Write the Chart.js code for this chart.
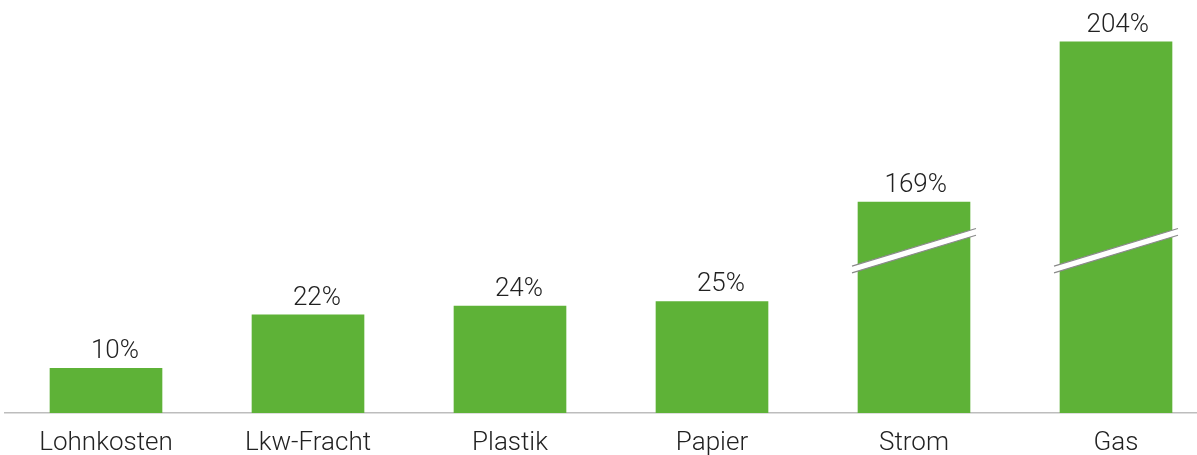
<!DOCTYPE html>
<html>
<head>
<meta charset="utf-8">
<script src="https://cdn.jsdelivr.net/npm/chart.js@4"></script>
<style>
  html, body { margin: 0; padding: 0; background: #fff; overflow: hidden; }
  #wrap { width: 1220px; height: 455px; }
</style>
</head>
<body>
<div id="wrap"><canvas id="chart" width="1220" height="455"></canvas></div>
<script>
// categories and the real percentage values shown as labels
const categories = ['Lohnkosten', 'Lkw-Fracht', 'Plastik', 'Papier', 'Strom', 'Gas'];
const values = [10, 22, 24, 25, 169, 204];
// heights actually drawn (Strom and Gas are cut by an axis break)
const barHeights = [10, 22, 24, 25, 47.3, 83.2];
const broken = [false, false, false, false, true, true];
const BREAK_AT = 36.4;

const GREEN = '#5eb237';
const FONT = 'Roboto, "Noto Sans", sans-serif';

// value labels sit right-aligned a bit past the bar centre, like the original
const valueLabels = {
  id: 'valueLabels',
  afterDatasetsDraw(chart) {
    const { ctx } = chart;
    const meta = chart.getDatasetMeta(0);
    ctx.save();
    ctx.font = `300 26px ${FONT}`;
    ctx.fillStyle = '#222';
    ctx.textAlign = 'right';
    ctx.textBaseline = 'alphabetic';
    meta.data.forEach((bar, i) => {
      ctx.fillText(`${values[i]}%`, bar.x + 33, bar.y - 10);
    });
    ctx.restore();
  },
};

const axisBreaks = {
  id: 'axisBreaks',
  afterDatasetsDraw(chart) {
    const { ctx } = chart;
    const meta = chart.getDatasetMeta(0);
    const yc = chart.scales.y.getPixelForValue(BREAK_AT);
    meta.data.forEach((bar, i) => {
      if (!broken[i]) return;
      const half = bar.width / 2 + 6;
      const x0 = bar.x - half, x1 = bar.x + half;
      const rise = 18.8, gap = 3.4;
      ctx.save();
      ctx.beginPath();
      ctx.moveTo(x0, yc + rise - gap);
      ctx.lineTo(x1, yc - rise - gap);
      ctx.lineTo(x1, yc - rise + gap);
      ctx.lineTo(x0, yc + rise + gap);
      ctx.closePath();
      ctx.fillStyle = '#fff';
      ctx.fill();
      ctx.strokeStyle = '#8a8a8a';
      ctx.lineWidth = 1.2;
      ctx.beginPath();
      ctx.moveTo(x0, yc + rise - gap);
      ctx.lineTo(x1, yc - rise - gap);
      ctx.moveTo(x0, yc + rise + gap);
      ctx.lineTo(x1, yc - rise + gap);
      ctx.stroke();
      ctx.restore();
    });
  },
};

new Chart(document.querySelector('#chart'), {
  type: 'bar',
  data: {
    labels: categories,
    datasets: [{
      data: barHeights,
      backgroundColor: GREEN,
      barThickness: 112,
    }],
  },
  options: {
    responsive: false,
    animation: false,
    layout: { padding: { left: 5, right: 3, top: 0, bottom: 0 } },
    plugins: { legend: { display: false }, tooltip: { enabled: false } },
    scales: {
      x: {
        grid: { display: false },
        border: { color: '#bdbdbd', width: 1.5 },
        ticks: { color: '#222', font: { family: FONT, size: 26, weight: 300 }, padding: 7 },
        afterFit: (scale) => { scale.height = 42; },
      },
      y: { display: false, min: 0, max: 92.6 },
    },
  },
  plugins: [valueLabels, axisBreaks],
});
</script>
</body>
</html>
